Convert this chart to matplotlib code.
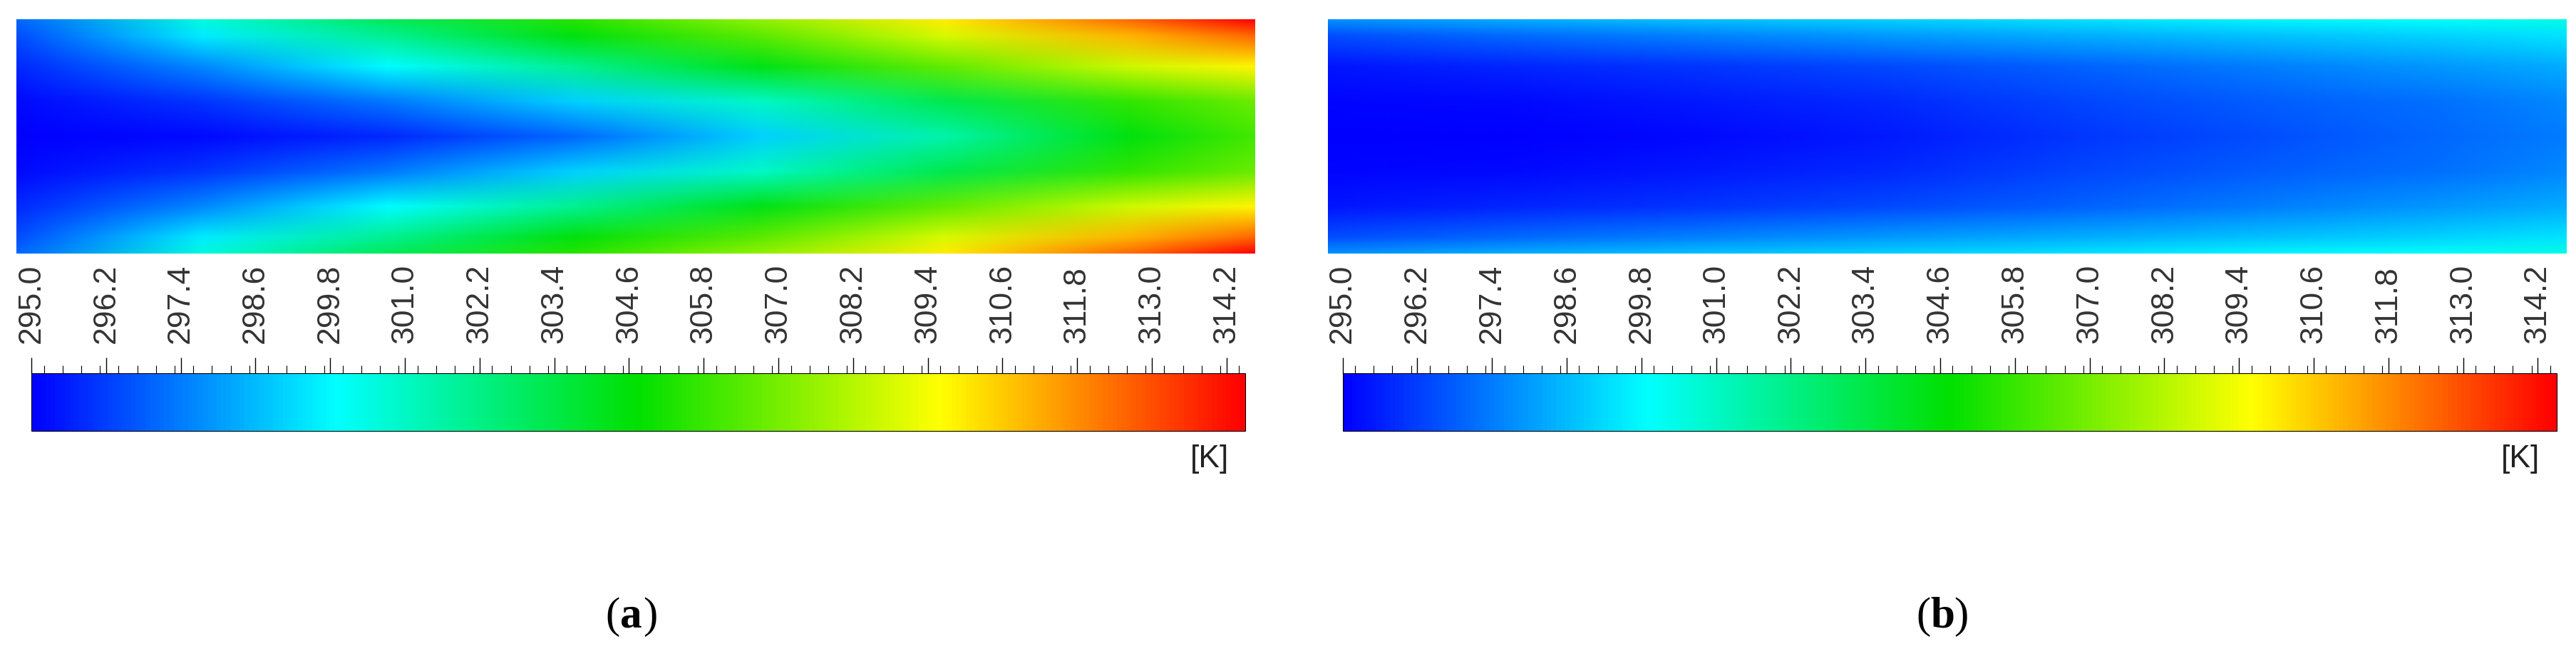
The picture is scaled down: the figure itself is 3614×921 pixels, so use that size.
"""Temperature contours for two cases with Fluent-style colour bars."""

import matplotlib

matplotlib.use("Agg")

import matplotlib.pyplot as plt
import numpy as np
from matplotlib.colors import LinearSegmentedColormap, Normalize
from matplotlib.cm import ScalarMappable
from matplotlib.image import NonUniformImage
from matplotlib.ticker import MultipleLocator

# field samples, from the wall towards the centre line
x_pos = [0.0, 0.15, 0.3, 0.45, 0.6, 0.75, 0.9, 1.0]
y_pos = [0.0, 0.07, 0.2, 0.35, 0.5, 0.65, 0.8, 0.93, 1.0]

temp_a_wall = [297.0, 300.5, 303.0, 305.5, 307.5, 310.0, 312.5, 314.5]
temp_a_near = [296.5, 299.5, 302.0, 304.5, 306.5, 308.8, 311.0, 312.5]
temp_a_mid = [295.8, 297.6, 299.8, 302.0, 304.3, 306.6, 308.7, 309.8]
temp_a_inner = [295.2, 296.0, 297.3, 299.0, 301.0, 303.3, 305.7, 306.8]
temp_a_centre = [295.0, 295.2, 295.8, 297.0, 299.0, 301.5, 304.5, 306.0]

temp_b_wall = [297.8, 298.3, 298.7, 299.0, 299.3, 299.7, 300.0, 300.4]
temp_b_near = [296.5, 297.0, 297.5, 297.9, 298.3, 298.7, 299.1, 299.4]
temp_b_mid = [295.4, 295.7, 296.0, 296.4, 296.9, 297.4, 297.9, 298.3]
temp_b_inner = [295.1, 295.2, 295.5, 295.8, 296.3, 296.8, 297.2, 297.6]
temp_b_centre = [295.0, 295.0, 295.2, 295.5, 296.0, 296.5, 297.0, 297.4]

t_min, t_max = 295.0, 314.5
tick_values = [295.0, 296.2, 297.4, 298.6, 299.8, 301.0, 302.2, 303.4, 304.6,
               305.8, 307.0, 308.2, 309.4, 310.6, 311.8, 313.0, 314.2]

cmap = LinearSegmentedColormap.from_list(
    "fluent", [(0.0, "#0000ff"), (0.25, "#00ffff"), (0.5, "#00e000"),
               (0.75, "#ffff00"), (1.0, "#ff0000")])
norm = Normalize(t_min, t_max)

fig = plt.figure(figsize=(36.14, 9.21), dpi=100)
plt.rcParams["font.family"] = ["Liberation Sans", "DejaVu Sans"]


def draw_panel(x0, rows, letter):
    wall, near, mid, inner, centre = rows
    field = np.array([wall, near, mid, inner, centre, inner, mid, near, wall])
    ax = fig.add_axes([x0 + 0.0064, 0.613, 0.4806, 0.357])
    im = NonUniformImage(ax, interpolation="bilinear", cmap=cmap, norm=norm,
                         extent=(0, 1, 0, 1))
    im.set_data(x_pos, y_pos, field)
    ax.add_image(im)
    ax.set_xlim(0, 1)
    ax.set_ylim(0, 1)
    ax.set_axis_off()

    cax = fig.add_axes([x0 + 0.0122, 0.343, 0.4712, 0.088])
    cb = fig.colorbar(ScalarMappable(norm=norm, cmap=cmap), cax=cax, orientation="horizontal")
    cb.outline.set_linewidth(0.8)
    cax.xaxis.set_ticks_position("top")
    cax.set_xticks(tick_values)
    cax.set_xticklabels([f"{v:.1f}" for v in tick_values], rotation=90, fontsize=32,
                        color="#333333")
    cax.xaxis.set_minor_locator(MultipleLocator(0.3))
    cax.tick_params(axis="x", which="major", direction="out", length=16, width=1, pad=14)
    cax.tick_params(axis="x", which="minor", direction="out", length=8, width=0.8)
    fig.text(x0 + 0.4695, 0.30, "[K]", fontsize=32, ha="center", va="center", color="#222222")
    cx = x0 + 0.245
    fig.text(cx - 0.0045, 0.06, "(", fontsize=44, ha="right", va="center",
             family="Liberation Serif")
    fig.text(cx, 0.06, letter, fontsize=44, ha="center", va="center",
             family="Liberation Serif", fontweight="bold")
    fig.text(cx + 0.0045, 0.06, ")", fontsize=44, ha="left", va="center",
             family="Liberation Serif")


draw_panel(0.0, [temp_a_wall, temp_a_near, temp_a_mid, temp_a_inner, temp_a_centre], "a")
draw_panel(0.509, [temp_b_wall, temp_b_near, temp_b_mid, temp_b_inner, temp_b_centre], "b")

fig.savefig("out.png", dpi=100, facecolor="white")
